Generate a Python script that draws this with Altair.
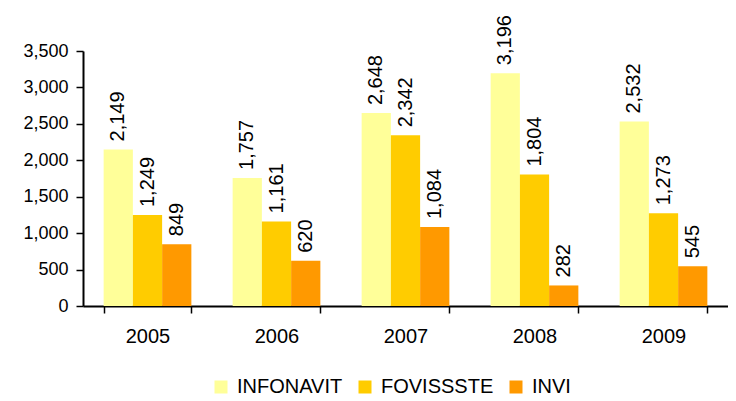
import altair as alt
import pandas as pd

years = ["2005", "2006", "2007", "2008", "2009"]
series = ["INFONAVIT", "FOVISSSTE", "INVI"]
infonavit = [2149, 1757, 2648, 3196, 2532]
fovissste = [1249, 1161, 2342, 1804, 1273]
invi = [849, 620, 1084, 282, 545]
colors = ["#FFFF99", "#FFCC00", "#FF9900"]

rows = []
for i, y in enumerate(years):
    for s, vals in zip(series, [infonavit, fovissste, invi]):
        rows.append({"year": y, "series": s, "value": vals[i]})
df = pd.DataFrame(rows)

FONT = "Liberation Sans"

x = alt.X("year:N", sort=years, title=None,
          scale=alt.Scale(paddingInner=0.32, paddingOuter=0.16),
          axis=alt.Axis(labelAngle=0, labelFontSize=20, labelColor="black",
                        labelFont=FONT, domainColor="black", domainWidth=2,
                        tickColor="black", tickWidth=1.5, tickSize=7,
                        tickBand="extent", labelPadding=13))
xo = alt.XOffset("series:N", sort=series,
                 scale=alt.Scale(domain=series, paddingInner=0, paddingOuter=0))
y = alt.Y("value:Q", title=None,
          scale=alt.Scale(domain=[0, 3500], nice=False),
          axis=alt.Axis(values=list(range(0, 3501, 500)), format=",.0f",
                        labelFontSize=18, labelColor="black", labelFont=FONT,
                        domainColor="black", domainWidth=2, tickColor="black",
                        tickWidth=1.5, tickSize=7, labelPadding=8, grid=False))

base = alt.Chart(df).encode(x=x, xOffset=xo, y=y)

bars = base.mark_bar().encode(
    color=alt.Color("series:N", sort=series,
                    scale=alt.Scale(domain=series, range=colors),
                    legend=alt.Legend(title=None, orient="none", direction="horizontal",
                                      legendX=128, legendY=326,
                                      labelFontSize=20, labelFont=FONT, labelColor="black",
                                      symbolType="square", symbolSize=169,
                                      symbolStrokeWidth=0, columnPadding=12,
                                      labelOffset=6)),
)

labels = base.mark_text(angle=270, align="left", baseline="middle",
                        dx=8, fontSize=20, font=FONT, color="black").encode(
    text=alt.Text("value:Q", format=","),
)

chart = (bars + labels).properties(
    width=645, height=255,
    autosize=alt.AutoSizeParams(type="none"),
    padding={"left": 75, "top": 43, "right": 0, "bottom": 92},
).configure_view(stroke=None)

chart.save("out.html", embed_options={"renderer": "svg", "actions": False})
